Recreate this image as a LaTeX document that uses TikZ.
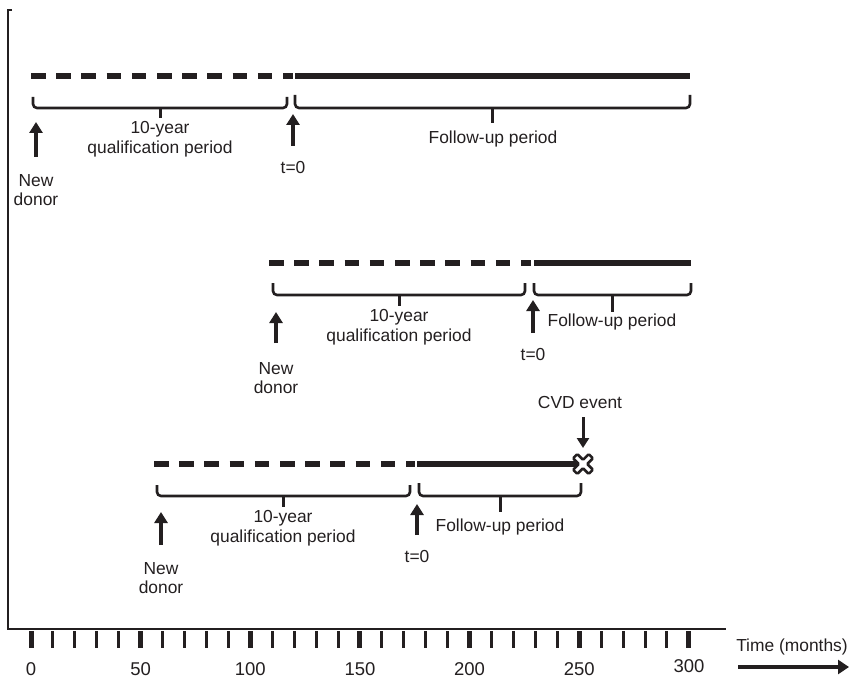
\documentclass[tikz,border=0pt]{standalone}
\usepackage{fontspec}
\setmainfont{Liberation Sans}
\usetikzlibrary{arrows.meta}
\definecolor{ink}{RGB}{35,31,32}

% bracket under a period: ends up, bar along the bottom, stub pointing down
\newcommand\periodbracket[5]{%
  \draw[bracket] (#1,#3) -- (#1,#4) -- (#2,#4) -- (#2,#3);
  \draw[bracketstub] ({(#1+#2)/2},#4) -- ({(#1+#2)/2},#5);
}

\begin{document}
\begin{tikzpicture}[x=1pt,y=-1pt,
  every node/.style={font=\fontsize{17.4}{19.5}\selectfont, text=ink, inner sep=0pt, align=center},
  ticklabel/.style={font=\fontsize{18.5}{20}\selectfont},
  planned/.style={line width=6pt, draw=ink, dash pattern=on 14.5pt off 10.7pt},
  observed/.style={line width=6pt, draw=ink},
  bracket/.style={line width=2.6pt, draw=ink, rounded corners=4pt},
  bracketstub/.style={line width=3pt, draw=ink},
  marker/.style={line width=3.5pt, draw=ink, -{Triangle[length=11pt,width=13pt]}},
  eventarrow/.style={line width=3pt, draw=ink, -{Triangle[length=10pt,width=12pt]}},
  minortick/.style={line width=3pt, draw=ink},
  majortick/.style={line width=5pt, draw=ink},
  axisline/.style={line width=2.5pt, draw=ink},
  timearrow/.style={line width=4.7pt, draw=ink, -{Triangle[length=11pt,width=14pt]}},
]
\useasboundingbox (0,0) rectangle (851,679);

% ---------- axes ----------
\draw[axisline] (12,10) -- (8,10) -- (8,629) -- (726,629);
\foreach \k in {0,...,30}{
  \pgfmathsetmacro\tx{31+\k*21.93}
  \pgfmathtruncatemacro\rem{mod(\k,5)}
  \ifnum\rem=0
    \draw[majortick] (\tx,631) -- (\tx,648);
  \else
    \draw[minortick] (\tx,631) -- (\tx,648);
  \fi
}
\foreach \v [count=\i from 0] in {0,50,100,150,200,250}{
  \node[ticklabel] (lab\v) at ({31+\i*109.65},669) {\v};
}
\node[ticklabel] (lab300) at (689,666) {300};
\node (timelabel) at (792,647) {Time (months)};
\coordinate (tstart) at (738,667);
\coordinate (tend) at (849,667);
\draw[timearrow] (tstart) -- (tend);

% ---------- donor 1: 0 to 300 months ----------
\coordinate (d1start) at (31,76);
\coordinate (d1zero) at (293,76);
\coordinate (d1solid) at (295,76);
\coordinate (d1end) at (690,76);
\draw[planned] (d1start) -- (d1zero);
\draw[observed] (d1solid) -- (d1end);
\periodbracket{33}{287}{97}{108}{118}
\periodbracket{295}{690}{95}{108}{123}
\node (q1) at (160,139) {10-year\\qualification period};
\node (f1) at (493,139) {Follow-up period};
\node (n1) at (36,190) {New\\donor};
\node (z1) at (293,168) {t=0};
\coordinate (n1base) at (36,157);
\coordinate (n1tip) at (36,122);
\coordinate (z1base) at (293,146);
\coordinate (z1tip) at (293,114);
\draw[marker] (n1base) -- (n1tip);
\draw[marker] (z1base) -- (z1tip);

% ---------- donor 2: 110 to 300 months ----------
\coordinate (d2start) at (269,263);
\coordinate (d2zero) at (531,263);
\coordinate (d2solid) at (534,263);
\coordinate (d2end) at (691,263);
\draw[planned] (d2start) -- (d2zero);
\draw[observed] (d2solid) -- (d2end);
\periodbracket{273}{525}{283}{295}{306}
\periodbracket{534}{691}{283}{295}{312}
\node (q2) at (399,327) {10-year\\qualification period};
\node (f2) at (612,322) {Follow-up period};
\node (n2) at (276,378) {New\\donor};
\node (z2) at (533,355) {t=0};
\coordinate (n2base) at (276,343);
\coordinate (n2tip) at (276,312);
\coordinate (z2base) at (533,333);
\coordinate (z2tip) at (533,300);
\draw[marker] (n2base) -- (n2tip);
\draw[marker] (z2base) -- (z2tip);

% ---------- donor 3: 55 months to CVD event at 250 months ----------
\coordinate (d3start) at (154,464);
\coordinate (d3zero) at (415,464);
\coordinate (d3solid) at (417,464);
\coordinate (d3end) at (583,464);
\draw[planned] (d3start) -- (d3zero);
\draw[observed] (d3solid) -- (d3end);
\periodbracket{157}{410}{485}{496}{507}
\periodbracket{419}{581}{483}{496}{512}
\node (q3) at (283,528) {10-year\\qualification period};
\node (f3) at (500,527) {Follow-up period};
\node (n3) at (161,578) {New\\donor};
\node (z3) at (417,557) {t=0};
\coordinate (n3base) at (161,545);
\coordinate (n3tip) at (161,512);
\coordinate (z3base) at (417,535);
\coordinate (z3tip) at (417,504);
\draw[marker] (n3base) -- (n3tip);
\draw[marker] (z3base) -- (z3tip);

% CVD event: label, arrow and cross
\node (cvd) at (580,403) {CVD event};
\coordinate (cvdbase) at (583,417);
\coordinate (cvdtip) at (583,448);
\draw[eventarrow] (cvdbase) -- (cvdtip);
\draw[line width=2.5pt, draw=ink, fill=white, rounded corners=1pt, rotate around={45:(583,464)}]
  (580,453) -- (586,453) -- (586,461) -- (594,461) -- (594,467) -- (586,467)
  -- (586,475) -- (580,475) -- (580,467) -- (572,467) -- (572,461) -- (580,461) -- cycle;
\end{tikzpicture}
\end{document}
